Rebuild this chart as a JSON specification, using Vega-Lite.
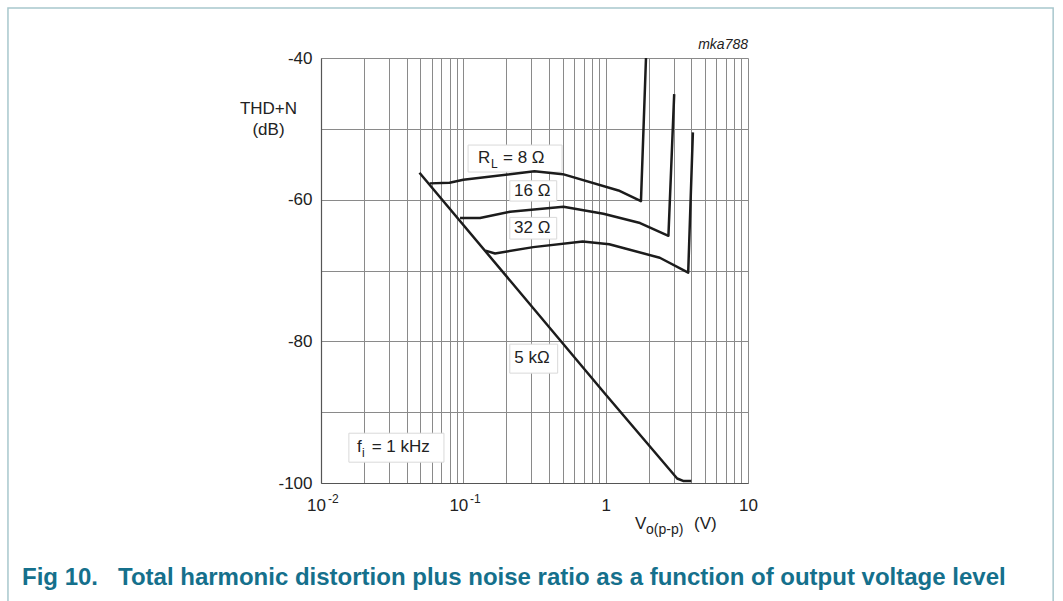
{
  "$schema": "https://vega.github.io/schema/vega-lite/v6.json",
  "width": 427,
  "height": 425,
  "autosize": {"type": "none"},
  "padding": {"left": 321, "top": 58, "right": 315, "bottom": 118},
  "background": "white",
  "config": {
    "font": "Liberation Sans",
    "view": {"stroke": null},
    "axis": {"labelFont": "Liberation Sans", "titleFont": "Liberation Sans", "labelColor": "#222", "titleColor": "#222"}
  },
  "title": {
    "text": "Fig 10.\u00a0\u00a0\u00a0Total harmonic distortion plus noise ratio as a function of output voltage level",
    "orient": "bottom",
    "anchor": "start",
    "frame": "group",
    "font": "Liberation Sans",
    "fontSize": 24,
    "fontWeight": "bold",
    "color": "#15708c",
    "offset": -38,
    "dx": -299
  },
  "datasets": {
    "curves": [
      {"series": "8", "i": 0, "x": 0.058, "y": -57.7},
      {"series": "8", "i": 1, "x": 0.080, "y": -57.6},
      {"series": "8", "i": 2, "x": 0.100, "y": -57.2},
      {"series": "8", "i": 3, "x": 0.316, "y": -56.0},
      {"series": "8", "i": 4, "x": 0.500, "y": -56.4},
      {"series": "8", "i": 5, "x": 1.23, "y": -58.7},
      {"series": "8", "i": 6, "x": 1.77, "y": -60.2},
      {"series": "8", "i": 7, "x": 1.92, "y": -40.0},
      {"series": "16", "i": 0, "x": 0.0948, "y": -62.6},
      {"series": "16", "i": 1, "x": 0.131, "y": -62.6},
      {"series": "16", "i": 2, "x": 0.213, "y": -61.7},
      {"series": "16", "i": 3, "x": 0.505, "y": -61.0},
      {"series": "16", "i": 4, "x": 0.964, "y": -62.0},
      {"series": "16", "i": 5, "x": 1.745, "y": -63.3},
      {"series": "16", "i": 6, "x": 2.76, "y": -65.1},
      {"series": "16", "i": 7, "x": 3.03, "y": -45.1},
      {"series": "32", "i": 0, "x": 0.143, "y": -67.2},
      {"series": "32", "i": 1, "x": 0.167, "y": -67.6},
      {"series": "32", "i": 2, "x": 0.31, "y": -66.7},
      {"series": "32", "i": 3, "x": 0.69, "y": -65.9},
      {"series": "32", "i": 4, "x": 1.06, "y": -66.3},
      {"series": "32", "i": 5, "x": 2.4, "y": -68.2},
      {"series": "32", "i": 6, "x": 3.8, "y": -70.3},
      {"series": "32", "i": 7, "x": 4.1, "y": -50.5},
      {"series": "5k", "i": 0, "x": 0.0492, "y": -56.2},
      {"series": "5k", "i": 1, "x": 1.0, "y": -87.5},
      {"series": "5k", "i": 2, "x": 3.18, "y": -99.36},
      {"series": "5k", "i": 3, "x": 3.5, "y": -99.7},
      {"series": "5k", "i": 4, "x": 4.0, "y": -99.7}
    ],
    "boxes": [
      {"x": 0.108, "x2": 0.494, "y": -52.29, "y2": -56.10},
      {"x": 0.212, "x2": 0.453, "y": -57.33, "y2": -60.20},
      {"x": 0.212, "x2": 0.453, "y": -62.50, "y2": -65.56},
      {"x": 0.212, "x2": 0.46, "y": -80.40, "y2": -84.49},
      {"x": 0.0157, "x2": 0.0731, "y": -92.97, "y2": -97.06}
    ],
    "frame": [
      {"x": 0.0000632, "x2": 1393, "y": -32.94, "y2": -117.0}
    ],
    "labels": [
      {"role": "main", "text": "R", "x": 0.1269, "y": -54.1},
      {"role": "sub", "text": "L", "x": 0.1565, "y": -54.9},
      {"role": "main", "text": "= 8 Ω", "x": 0.190, "y": -54.1},
      {"role": "main", "text": "16 Ω", "x": 0.227, "y": -58.8},
      {"role": "main", "text": "32 Ω", "x": 0.227, "y": -64.0},
      {"role": "main", "text": "5 kΩ", "x": 0.228, "y": -82.4},
      {"role": "main", "text": "f", "x": 0.0179, "y": -94.9},
      {"role": "sub", "text": "i", "x": 0.0194, "y": -95.7},
      {"role": "main", "text": "= 1 kHz", "x": 0.0227, "y": -94.9},
      {"role": "main", "text": "V", "x": 1.61, "y": -105.8},
      {"role": "sub2", "text": "o(p-p)", "x": 1.92, "y": -106.7},
      {"role": "main", "text": "(V)", "x": 4.18, "y": -105.8},
      {"role": "sup", "text": "-2", "x": 0.0112, "y": -102.3},
      {"role": "sup", "text": "-1", "x": 0.1114, "y": -102.3},
      {"role": "tag", "text": "mka788", "x": 10, "y": -38.2}
    ]
  },
  "encoding": {
    "x": {
      "field": "x",
      "type": "quantitative",
      "scale": {"type": "log", "domain": [0.01, 10], "nice": false},
      "axis": {
        "values": [0.01, 0.02, 0.03, 0.04, 0.05, 0.06, 0.07, 0.08, 0.09, 0.1, 0.2, 0.3, 0.4, 0.5, 0.6, 0.7, 0.8, 0.9, 1, 2, 3, 4, 5, 6, 7, 8, 9, 10],
        "labelExpr": "datum.value == 0.01 ? '10' : datum.value == 0.1 ? '10' : datum.value == 1 ? '1' : datum.value == 10 ? '10' : ''",
        "labelOffset": {"condition": {"test": "datum.value < 0.5", "value": -5}, "value": 0},
        "labelOverlap": false,
        "labelFlush": false,
        "labelFontSize": 17,
        "labelPadding": 14,
        "ticks": false,
        "grid": true,
        "gridColor": "#8a8a8a",
        "gridWidth": 1,
        "domainColor": "#555",
        "domainWidth": 1.2,
        "title": null
      }
    },
    "y": {
      "field": "y",
      "type": "quantitative",
      "scale": {"domain": [-100, -40], "nice": false, "zero": false},
      "axis": {
        "values": [-100, -90, -80, -70, -60, -50, -40],
        "labelExpr": "datum.value % 20 == 0 ? '' + datum.value : ''",
        "labelOverlap": false,
        "labelFlush": false,
        "labelFontSize": 17,
        "labelPadding": 9,
        "ticks": false,
        "grid": true,
        "gridColor": "#8a8a8a",
        "gridWidth": 1,
        "domainColor": "#555",
        "domainWidth": 1.2,
        "title": ["THD+N", "(dB)"],
        "titleAngle": 0,
        "titleFontSize": 17,
        "titleFontWeight": "normal",
        "titleAlign": "center",
        "titleBaseline": "top",
        "titleX": -53,
        "titleY": 42,
        "titleLineHeight": 21
      }
    }
  },
  "layer": [
    {
      "data": {"name": "frame"},
      "mark": {"type": "rect", "fill": null, "stroke": "#a8c7cd", "strokeWidth": 1.5},
      "encoding": {"x2": {"field": "x2"}, "y2": {"field": "y2"}}
    },
    {
      "data": {"name": "boxes"},
      "mark": {"type": "rect", "fill": "white", "stroke": "#d9d9d9", "strokeWidth": 1},
      "encoding": {"x2": {"field": "x2"}, "y2": {"field": "y2"}}
    },
    {
      "data": {"name": "curves"},
      "mark": {"type": "line", "color": "#1c1c1c", "strokeWidth": 2.5, "strokeJoin": "round"},
      "encoding": {"detail": {"field": "series"}, "order": {"field": "i", "type": "quantitative"}}
    },
    {
      "data": {"name": "labels"},
      "transform": [{"filter": "datum.role == 'main'"}],
      "mark": {"type": "text", "align": "left", "baseline": "middle", "fontSize": 17, "color": "#222"},
      "encoding": {"text": {"field": "text"}}
    },
    {
      "data": {"name": "labels"},
      "transform": [{"filter": "datum.role == 'sub'"}],
      "mark": {"type": "text", "align": "left", "baseline": "middle", "fontSize": 12, "color": "#222"},
      "encoding": {"text": {"field": "text"}}
    },
    {
      "data": {"name": "labels"},
      "transform": [{"filter": "datum.role == 'sub2'"}],
      "mark": {"type": "text", "align": "left", "baseline": "middle", "fontSize": 14, "color": "#222"},
      "encoding": {"text": {"field": "text"}}
    },
    {
      "data": {"name": "labels"},
      "transform": [{"filter": "datum.role == 'sup'"}],
      "mark": {"type": "text", "align": "left", "baseline": "middle", "fontSize": 12, "color": "#222"},
      "encoding": {"text": {"field": "text"}}
    },
    {
      "data": {"name": "labels"},
      "transform": [{"filter": "datum.role == 'tag'"}],
      "mark": {"type": "text", "align": "right", "baseline": "middle", "fontSize": 14, "fontStyle": "italic", "color": "#222"},
      "encoding": {"text": {"field": "text"}}
    }
  ]
}
